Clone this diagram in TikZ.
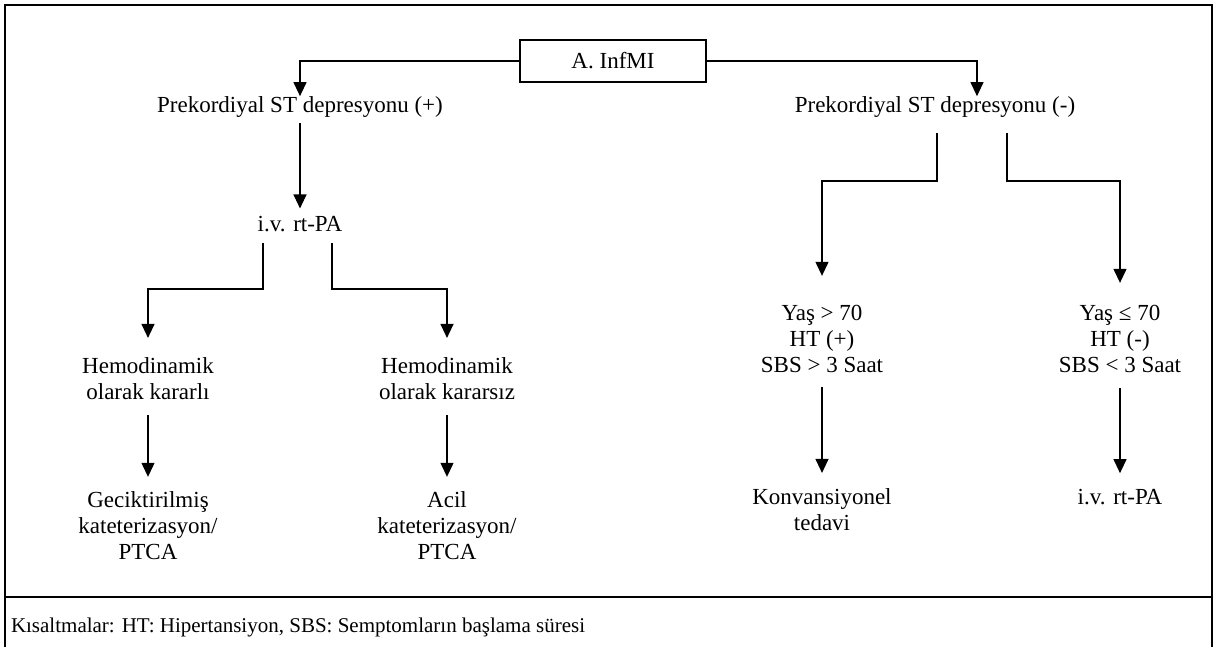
\documentclass[tikz,border=0pt]{standalone}
\usepackage{fontspec}
\setmainfont{Liberation Serif}
\usetikzlibrary{arrows.meta}
\begin{document}
\begin{tikzpicture}[x=1pt,y=-1pt,
  txt/.style={inner sep=0pt,outer sep=0pt,align=center,font=\fontsize{23}{26}\selectfont},
  conn/.style={line width=1.2pt,-{Triangle[width=13pt,length=14pt]}},
  frameline/.style={line width=2pt},
  boxed/.style={draw,line width=1.4pt,minimum width=186pt,minimum height=42pt}]
\useasboundingbox (0,0) rectangle (1216,646);
\fill[white] (0,0) rectangle (1216,646);
% frame
\draw[frameline] (5,5) rectangle (1212,700);
\draw[frameline] (5,597) -- (1212,597);
% nodes
\node[txt,boxed] (top) at (613,61) {A. InfMI};
\node[txt] (plus) at (300,106.6) {Prekordiyal ST depresyonu (+)};
\node[txt] (minus) at (935,106.6) {Prekordiyal ST depresyonu (-)};
\node[txt] (ivl) at (300,224.2) {i.v. rt-PA};
\node[txt] (hk1) at (148,378.5) {Hemodinamik\\olarak kararlı};
\node[txt] (hk2) at (447,378.5) {Hemodinamik\\olarak kararsız};
\node[txt] (gec) at (148,525.7) {Geciktirilmiş\\kateterizasyon/\\PTCA};
\node[txt] (acil) at (447,525.7) {Acil\\kateterizasyon/\\PTCA};
\node[txt] (yas1) at (822,338.6) {Yaş > 70\\HT (+)\\SBS > 3 Saat};
\node[txt] (yas2) at (1120,338.6) {Yaş ≤ 70\\HT (-)\\SBS < 3 Saat};
\node[txt] (konv) at (822,509.8) {Konvansiyonel\\tedavi};
\node[txt] (ivr) at (1120,496.7) {i.v. rt-PA};
\node[txt,font=\fontsize{21}{24}\selectfont,anchor=base west] (foot) at (11,632) {Kısaltmalar: HT: Hipertansiyon, SBS: Semptomların başlama süresi};
% bend points
\coordinate (b1) at (263,289);
\coordinate (b2) at (332,289);
\coordinate (c1) at (937,181);
\coordinate (c2) at (1007,181);
% connectors
\draw[conn] (top.west) -| (plus.north);
\draw[conn] (top.east) -| ([xshift=42pt]minus.north);
\draw[conn,shorten <=6pt,shorten >=8pt] (plus.south) -- (ivl.north);
\draw[conn,shorten <=11pt,shorten >=19.5pt] (ivl.south -| b1) -- (b1) -| (hk1.north);
\draw[conn,shorten <=11pt,shorten >=19.5pt] (ivl.south -| b2) -- (b2) -| (hk2.north);
\draw[conn,shorten <=15.5pt,shorten >=14.8pt] (hk1.south) -- (gec.north);
\draw[conn,shorten <=15.5pt,shorten >=14.8pt] (hk2.south) -- (acil.north);
\draw[conn,shorten <=16pt,shorten >=29pt] (minus.south -| c1) -- (c1) -| (yas1.north);
\draw[conn,shorten <=16pt,shorten >=22pt] (minus.south -| c2) -- (c2) -| (yas2.north);
\draw[conn,shorten <=14.5pt,shorten >=15.8pt] (yas1.south) -- (konv.north);
\draw[conn,shorten <=15.5pt,shorten >=15.8pt] (yas2.south) -- (ivr.north);
\end{tikzpicture}
\end{document}
